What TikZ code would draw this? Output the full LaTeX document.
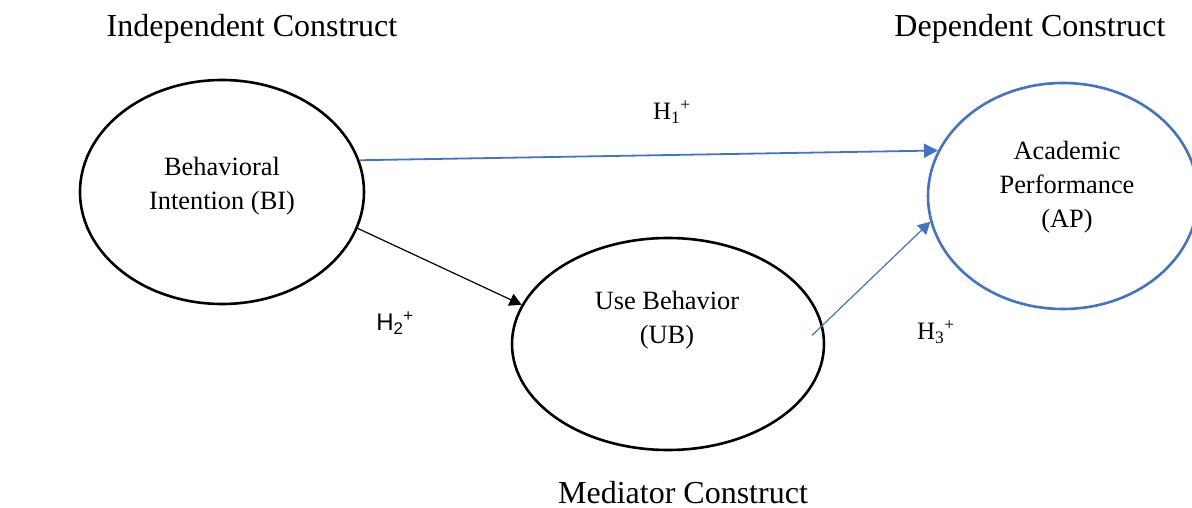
\documentclass[tikz,border=0pt]{standalone}
\usepackage{fontspec}
\setmainfont{Liberation Serif}
\newfontfamily\hsans{Liberation Sans}
\usetikzlibrary{shapes.geometric,arrows.meta}
\definecolor{apblue}{HTML}{4472C4}
\begin{document}
\begin{tikzpicture}[x=1pt,y=-1pt,
  construct/.style={ellipse, draw, line width=2.6pt, inner sep=0pt},
  title/.style={font=\fontsize{32}{38}\selectfont, anchor=base, inner sep=0pt},
  inner/.style={font=\fontsize{26.4}{34}\selectfont, align=center, inner sep=0pt},
  hyp/.style={font=\fontsize{25}{30}\selectfont, inner sep=0pt},
  bigtip/.style={-{Triangle[length=14pt,width=14pt]}},
  smalltip/.style={-{Triangle[length=12pt,width=13pt]}}]
\useasboundingbox (0,0) rectangle (1192,508);
\fill[white] (0,0) rectangle (1192,508);
% constructs
\node[construct, minimum width=284pt, minimum height=224pt] (BI) at (222,192) {};
\node[construct, minimum width=312pt, minimum height=212pt] (UB) at (668,344) {};
\node[construct, draw=apblue, minimum width=270pt, minimum height=226pt] (AP) at (1063,196) {};
% texts inside
\node[inner] (BItext) at (222,186) {Behavioral\\Intention (BI)};
\node[inner] (UBtext) at (667,320) {Use Behavior\\(UB)};
\node[inner] (APtext) at (1067,187) {Academic\\Performance\\(AP)};
% titles
\node[title] (indep) at (252,37) {Independent Construct};
\node[title] (dep) at (1030,37) {Dependent Construct};
\node[title] (med) at (683,503) {Mediator Construct};
% hypothesis labels
\node[hyp] (h1) at (672,112) {H\textsubscript{1}\textsuperscript{+}};
\node[hyp, font=\hsans\fontsize{24}{30}\selectfont] (h2) at (395,323) {H\textsubscript{2}\textsuperscript{+}};
\node[hyp] (h3) at (936,332) {H\textsubscript{3}\textsuperscript{+}};
% connectors
\draw[bigtip, apblue, line width=1.8pt] (BI.13.6) -- (AP.160.5);
\draw[smalltip, black, line width=1.2pt] (BI.-15.4) -- (UB.165.8);
\draw[smalltip, apblue, line width=1.2pt, shorten <=-15pt] (UB.7.7) -- (AP.191.5);
\end{tikzpicture}
\end{document}
